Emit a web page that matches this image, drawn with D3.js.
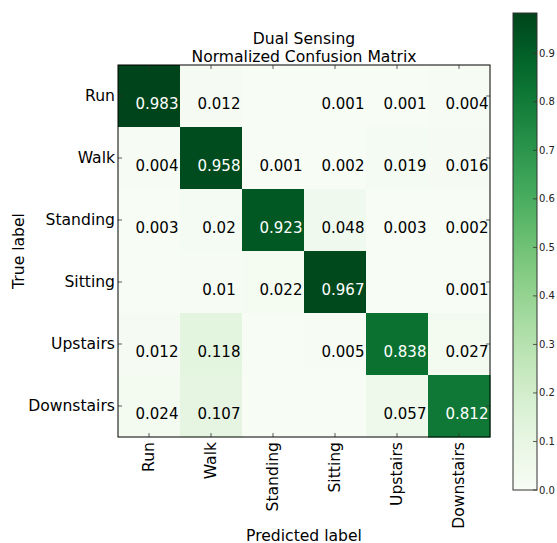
<!DOCTYPE html>
<html>
<head>
<meta charset="utf-8">
<script src="https://cdn.jsdelivr.net/npm/d3@7"></script>
<style>
  html, body { margin: 0; padding: 0; background: #fff; }
  svg { display: block; font-family: "DejaVu Sans", sans-serif; }
</style>
</head>
<body>
<svg id="chart" width="557" height="543"></svg>
<script>
// Activity classes (rows = true label, columns = predicted label)
const classes = ["Run", "Walk", "Standing", "Sitting", "Upstairs", "Downstairs"];

// Normalized confusion matrix rows
const rowRun        = [0.983, 0.012, 0,     0.001, 0.001, 0.004];
const rowWalk       = [0.004, 0.958, 0.001, 0.002, 0.019, 0.016];
const rowStanding   = [0.003, 0.02,  0.923, 0.048, 0.003, 0.002];
const rowSitting    = [0,     0.01,  0.022, 0.967, 0,     0.001];
const rowUpstairs   = [0.012, 0.118, 0,     0.005, 0.838, 0.027];
const rowDownstairs = [0.024, 0.107, 0,     0,     0.057, 0.812];
const matrix = [rowRun, rowWalk, rowStanding, rowSitting, rowUpstairs, rowDownstairs];

const colorbarTicks = [0.0, 0.1, 0.2, 0.3, 0.4, 0.5, 0.6, 0.7, 0.8, 0.9];
const titleLines = ["Dual Sensing", "Normalized Confusion Matrix"];

const svg = d3.select("#chart");

const plot = { x: 118, y: 65, size: 372 };
const cbar = { x: 513, y: 13, w: 24, h: 477 };
const labelSize = 15.6;

const cells = [];
matrix.forEach((row, i) => row.forEach((v, j) => cells.push({ i, j, v })));
const vmax = d3.max(cells, d => d.v);
const vmin = d3.min(cells, d => d.v);

const x = d3.scaleBand().domain(d3.range(classes.length)).range([plot.x, plot.x + plot.size]);
const y = d3.scaleBand().domain(d3.range(classes.length)).range([plot.y, plot.y + plot.size]);
const color = d3.scaleSequential(d3.interpolateGreens).domain([vmin, vmax]);

// Heatmap cells
svg.append("g").selectAll("rect").data(cells).join("rect")
  .attr("x", d => x(d.j))
  .attr("y", d => y(d.i))
  .attr("width", x.bandwidth() + 0.5)
  .attr("height", y.bandwidth() + 0.5)
  .attr("fill", d => color(d.v));

// Inward ticks on all four sides
const tickG = svg.append("g").attr("stroke", "#333").attr("stroke-width", 0.8);
d3.range(classes.length).forEach(k => {
  const cx = x(k) + x.bandwidth() / 2;
  const cy = y(k) + y.bandwidth() / 2;
  tickG.append("line").attr("x1", cx).attr("x2", cx).attr("y1", plot.y).attr("y2", plot.y + 4);
  tickG.append("line").attr("x1", cx).attr("x2", cx).attr("y1", plot.y + plot.size).attr("y2", plot.y + plot.size - 4);
  tickG.append("line").attr("y1", cy).attr("y2", cy).attr("x1", plot.x).attr("x2", plot.x + 4);
  tickG.append("line").attr("y1", cy).attr("y2", cy).attr("x1", plot.x + plot.size).attr("x2", plot.x + plot.size - 4);
});

// Cell value labels
const fmt = v => String(+v.toFixed(3));
svg.append("g").selectAll("text").data(cells.filter(d => d.v > 0)).join("text")
  .attr("x", d => x(d.j) + x.bandwidth() / 2 + 8)
  .attr("y", d => y(d.i) + y.bandwidth() / 2 + 12.5)
  .attr("text-anchor", "middle")
  .attr("font-size", 15)
  .attr("fill", d => d.v > vmax / 2 ? "#ffffff" : "#000000")
  .text(d => fmt(d.v));

// Frame
svg.append("rect")
  .attr("x", plot.x).attr("y", plot.y)
  .attr("width", plot.size).attr("height", plot.size)
  .attr("fill", "none").attr("stroke", "#000").attr("stroke-width", 1);

// Row labels
svg.append("g").selectAll("text").data(classes).join("text")
  .attr("x", plot.x - 3)
  .attr("y", (d, k) => y(k) + y.bandwidth() / 2)
  .attr("text-anchor", "end")
  .attr("dominant-baseline", "central")
  .attr("font-size", labelSize)
  .attr("fill", "#000")
  .text(d => d);

// Column labels (rotated)
svg.append("g").selectAll("text").data(classes).join("text")
  .attr("transform", (d, k) => `translate(${x(k) + x.bandwidth() / 2},${plot.y + plot.size + 5}) rotate(-90)`)
  .attr("text-anchor", "end")
  .attr("dominant-baseline", "central")
  .attr("font-size", labelSize)
  .attr("fill", "#000")
  .text(d => d);

// Title
svg.append("g").selectAll("text").data(titleLines).join("text")
  .attr("x", plot.x + plot.size / 2)
  .attr("y", (d, k) => 43.5 + k * 18)
  .attr("text-anchor", "middle")
  .attr("font-size", labelSize)
  .attr("fill", "#000")
  .text(d => d);

// Axis titles
svg.append("text")
  .attr("transform", `translate(24,${plot.y + plot.size / 2}) rotate(-90)`)
  .attr("text-anchor", "middle")
  .attr("font-size", labelSize)
  .text("True label");
svg.append("text")
  .attr("x", plot.x + plot.size / 2)
  .attr("y", 540.5)
  .attr("text-anchor", "middle")
  .attr("font-size", labelSize)
  .text("Predicted label");

// Colorbar
const cy = d3.scaleLinear().domain([vmin, vmax]).range([cbar.y + cbar.h, cbar.y]);
const defs = svg.append("defs");
const grad = defs.append("linearGradient").attr("id", "cbgrad")
  .attr("x1", 0).attr("y1", 1).attr("x2", 0).attr("y2", 0);
d3.range(0, 1.0001, 0.05).forEach(t => {
  grad.append("stop").attr("offset", t).attr("stop-color", color(vmin + t * (vmax - vmin)));
});
svg.append("rect")
  .attr("x", cbar.x).attr("y", cbar.y)
  .attr("width", cbar.w).attr("height", cbar.h)
  .attr("fill", "url(#cbgrad)")
  .attr("stroke", "#333").attr("stroke-width", 1);

const cbTicks = svg.append("g");
cbTicks.selectAll("line").data(colorbarTicks).join("line")
  .attr("x1", cbar.x + cbar.w - 4).attr("x2", cbar.x + cbar.w)
  .attr("y1", d => cy(d)).attr("y2", d => cy(d))
  .attr("stroke", "#333").attr("stroke-width", 0.8);
cbTicks.selectAll("text").data(colorbarTicks).join("text")
  .attr("x", cbar.x + cbar.w + 2)
  .attr("y", d => cy(d))
  .attr("dominant-baseline", "central")
  .attr("font-size", 10)
  .attr("fill", "#222")
  .text(d => d3.format(".1f")(d));
</script>
</body>
</html>
